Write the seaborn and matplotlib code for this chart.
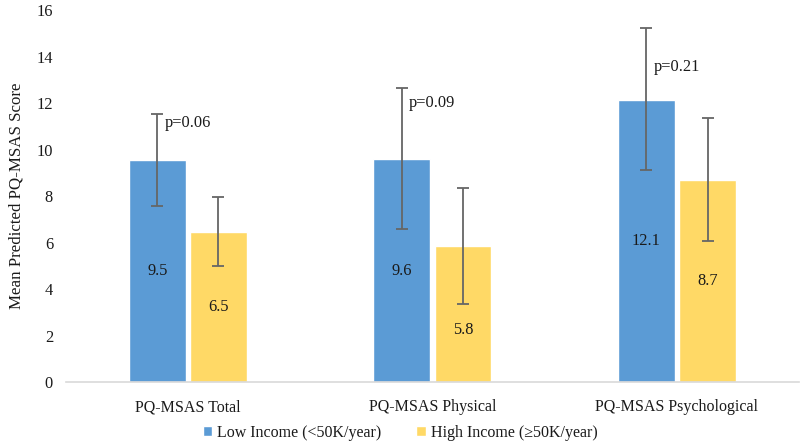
import matplotlib
matplotlib.use("Agg")
import matplotlib.pyplot as plt
import seaborn as sns
import pandas as pd
import numpy as np

categories = ["PQ-MSAS Total", "PQ-MSAS Physical", "PQ-MSAS Psychological"]
groups = ["Low Income (<50K/year)", "High Income (\u226550K/year)"]
low_income = [9.55, 9.6, 12.15]
high_income = [6.47, 5.85, 8.69]
low_ci_lower = [7.58, 6.61, 9.13]
low_ci_upper = [11.55, 12.64, 15.21]
high_ci_lower = [5.02, 3.36, 6.08]
high_ci_upper = [7.96, 8.34, 11.35]
low_labels = ["9.5", "9.6", "12.1"]
high_labels = ["6.5", "5.8", "8.7"]
p_values = ["p=0.06", "p=0.09", "p=0.21"]
yticks = [0, 2, 4, 6, 8, 10, 12, 14, 16]

df = pd.DataFrame({
    "category": categories * 2,
    "group": [groups[0]] * 3 + [groups[1]] * 3,
    "value": low_income + high_income,
})

sns.set_theme(style="white")
plt.rcParams["font.family"] = ["Liberation Serif", "DejaVu Serif"]
plt.rcParams["text.color"] = "#1a1a1a"

fig = plt.figure(figsize=(8, 4.46), dpi=100)
ax = fig.add_axes([0.082, 0.1424, 0.917, 0.8352])

colors = ["#5B9BD5", "#FFD966"]
sns.barplot(data=df, x="category", y="value", hue="group", order=categories,
            hue_order=groups, palette=colors, width=0.5, gap=0.07,
            saturation=1, ax=ax, legend=True, errorbar=None)

ax.set_ylim(0, 16)
ax.set_xlim(-0.5, 2.5)
ax.set_yticks(yticks)
ax.set_yticklabels([str(t) for t in yticks], fontsize=11.8, color="#1a1a1a")
ax.tick_params(axis="y", length=0, pad=9)
ax.tick_params(axis="x", length=0, pad=12, labelsize=11.5, labelcolor="#1a1a1a")
ax.set_xlabel("")
ax.set_ylabel("Mean Predicted PQ-MSAS Score", fontsize=12.2, labelpad=9, color="#1a1a1a")
for s in ["top", "right", "left"]:
    ax.spines[s].set_visible(False)
ax.spines["bottom"].set_color("#D9D9D9")
ax.spines["bottom"].set_linewidth(1.2)
ax.grid(False)

containers = ax.containers
series = [
    (low_income, low_ci_lower, low_ci_upper, low_labels),
    (high_income, high_ci_lower, high_ci_upper, high_labels),
]
label_shift = [[0, 0, 0], [0, -0.65, 0]]
for k, (cont, (vals, lo, hi, labs)) in enumerate(zip(containers, series)):
    xs = np.array([p.get_x() + p.get_width() / 2 for p in cont.patches])
    vals = np.array(vals)
    yerr = np.vstack([vals - np.array(lo), np.array(hi) - vals])
    ax.errorbar(xs, vals, yerr=yerr, fmt="none", ecolor="#666666",
                elinewidth=1.3, capsize=4, capthick=1.3, zorder=5)
    for j, (x, v, lab) in enumerate(zip(xs, vals, labs)):
        ax.text(x, v / 2 + label_shift[k][j], lab, ha="center", va="center",
                fontsize=11.8, color="#1a1a1a", zorder=6)
    if k == 0:
        for j, (x, h, p) in enumerate(zip(xs, hi, p_values)):
            yoff = [0.4, 0.65, 1.65][j]
            ax.text(x + 0.03, h - yoff, p, ha="left", va="center",
                    fontsize=11.8, color="#1a1a1a", zorder=6)

leg = ax.legend(loc="center", ncol=2, frameon=False, fontsize=11.5,
                handlelength=0.6, handleheight=0.6,
                handletextpad=0.3, columnspacing=2.2)
leg.set_bbox_to_anchor((0.5, 0.03), transform=fig.transFigure)

fig.savefig("out.png", dpi=100)
